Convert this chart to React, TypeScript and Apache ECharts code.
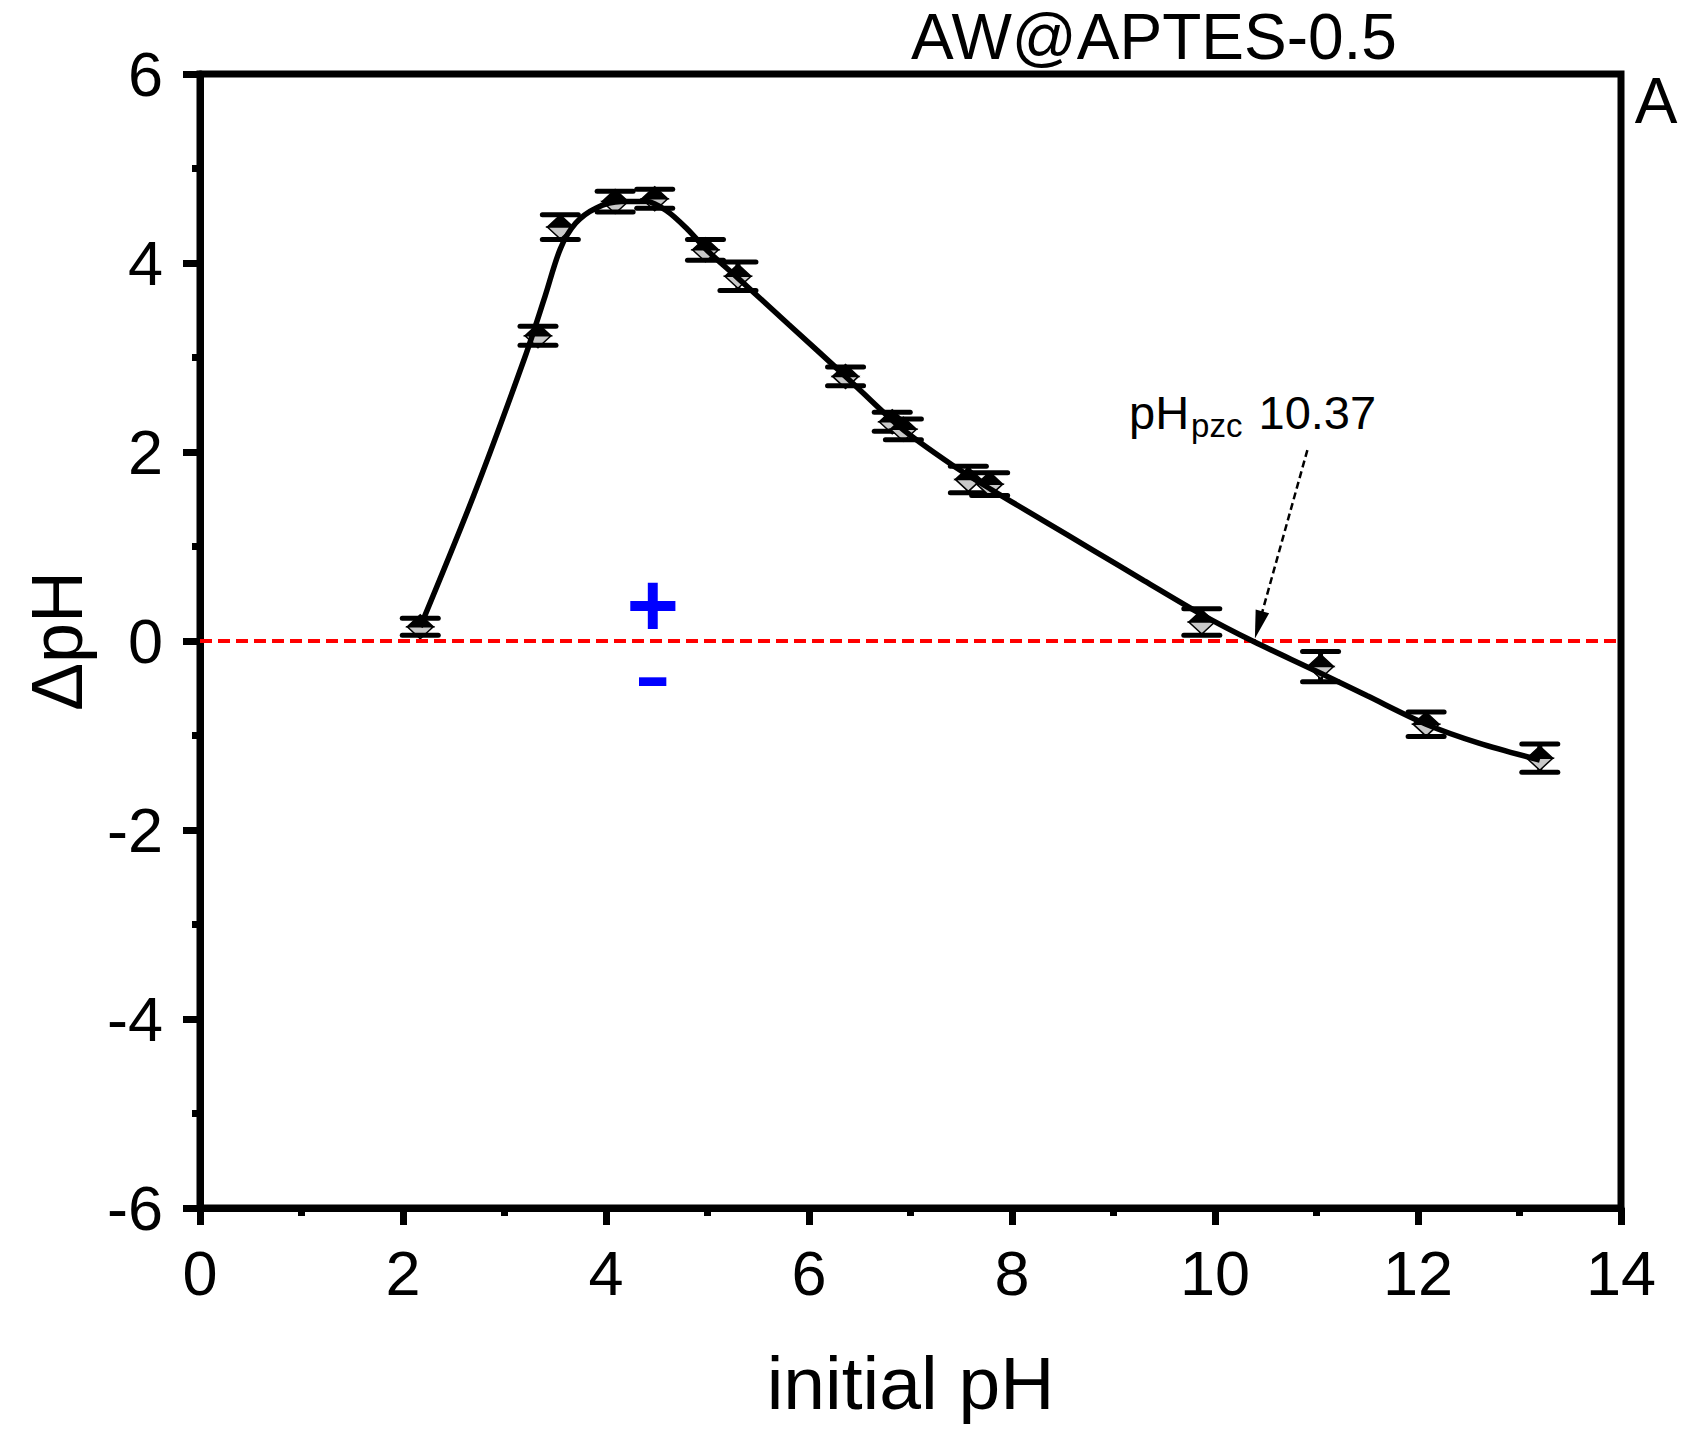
import React, { useEffect, useRef } from 'react';
import * as echarts from 'echarts';

// measured points: initial pH, ΔpH, error
const phInitial = [2.17, 3.33, 3.55, 4.09, 4.48, 4.98, 5.30, 6.36, 6.82, 6.93, 7.57, 7.78, 9.87, 11.04, 12.08, 13.20];
const deltaPH = [0.15, 3.23, 4.38, 4.65, 4.68, 4.14, 3.86, 2.80, 2.32, 2.24, 1.71, 1.66, 0.20, -0.27, -0.88, -1.24];
const deltaErr = [0.09, 0.10, 0.13, 0.11, 0.10, 0.11, 0.15, 0.10, 0.10, 0.11, 0.14, 0.12, 0.14, 0.16, 0.13, 0.15];

// fitted curve
const fitX = [2.17, 2.7, 3.2, 3.4, 3.55, 3.7, 3.9, 4.15, 4.4, 4.6, 4.8, 5.0, 5.3, 5.8, 6.36, 6.9, 7.4, 7.8, 8.3, 8.8, 9.3, 9.87, 10.37, 11.0, 11.5, 12.08, 12.6, 13.2];
const fitY = [0.15, 1.55, 3.0, 3.65, 4.15, 4.42, 4.58, 4.65, 4.65, 4.55, 4.36, 4.13, 3.84, 3.35, 2.8, 2.26, 1.87, 1.6, 1.28, 0.96, 0.64, 0.28, 0.0, -0.32, -0.58, -0.88, -1.08, -1.26];

const xTickLabels = ['0', '2', '4', '6', '8', '10', '12', '14'];
const yTickLabels = ['-6', '-4', '-2', '0', '2', '4', '6'];

const pzcValue = 10.37;
const chartTitle = 'AW@APTES-0.5';
const panelLetter = 'A';

const FONT = '"Liberation Sans", Arial, Helvetica, sans-serif';

export default function App() {
  const ref = useRef<HTMLDivElement>(null);
  useEffect(() => {
    document.body.style.margin = '0';
    const chart = echarts.init(ref.current!, null, { renderer: 'svg' });

    const axisCommon = {
      type: 'value',
      axisLine: { show: true, onZero: false, lineStyle: { color: '#000', width: 7 } },
      axisTick: { show: true, inside: false, length: 17, lineStyle: { color: '#000', width: 7 } },
      minorTick: { show: true, splitNumber: 2, length: 8, lineStyle: { color: '#000', width: 7 } },
      splitLine: { show: false },
      minorSplitLine: { show: false },
    };

    const option: any = {
      animation: false,
      backgroundColor: '#ffffff',
      grid: {
        left: 200, top: 74, width: 1421, height: 1134,
        show: true, borderColor: '#000', borderWidth: 7, backgroundColor: 'transparent',
      },
      xAxis: {
        ...axisCommon,
        min: 0, max: 14, interval: 2,
        name: 'initial pH', nameLocation: 'middle', nameGap: 137,
        nameTextStyle: { fontSize: 75, fontFamily: FONT, color: '#000' },
        axisLabel: {
          fontSize: 63, fontFamily: FONT, color: '#000', margin: 33,
          formatter: (v: number) => xTickLabels[Math.round(v / 2)] ?? String(v),
        },
      },
      yAxis: {
        ...axisCommon,
        min: -6, max: 6, interval: 2,
        name: 'ΔpH', nameLocation: 'middle', nameGap: 107,
        nameTextStyle: { fontSize: 72, fontFamily: FONT, color: '#000' },
        axisLabel: {
          fontSize: 63, fontFamily: FONT, color: '#000', margin: 37,
          formatter: (v: number) => yTickLabels[Math.round((v + 6) / 2)] ?? String(v),
        },
      },
      graphic: [
        {
          type: 'text', x: 1154, y: 37, z: 10,
          style: { text: chartTitle, font: `64px ${FONT}`, fill: '#000', align: 'center', verticalAlign: 'middle' },
        },
        {
          type: 'text', x: 1656, y: 101, z: 10,
          style: { text: panelLetter, font: `64px ${FONT}`, fill: '#000', align: 'center', verticalAlign: 'middle' },
        },
      ],
      series: [
        {
          name: 'zero',
          type: 'line',
          data: [],
          silent: true,
          markLine: {
            silent: true,
            symbol: 'none',
            label: { show: false },
            lineStyle: { color: '#ff0000', width: 4, type: [12, 6] },
            data: [{ yAxis: 0 }],
          },
        },
        {
          name: 'fit',
          type: 'line',
          data: fitX.map((x, i) => [x, fitY[i]]),
          smooth: 0.3,
          showSymbol: false,
          symbol: 'none',
          lineStyle: { color: '#000', width: 5.5 },
          z: 5,
        },
        {
          name: 'points',
          type: 'custom',
          data: phInitial.map((x, i) => [x, deltaPH[i], deltaErr[i]]),
          encode: { x: 0, y: 1 },
          z: 4,
          renderItem: (params: any, api: any) => {
            const x = api.value(0);
            const y = api.value(1);
            const e = api.value(2);
            const c = api.coord([x, y]);
            const t = api.coord([x, y + e]);
            const b = api.coord([x, y - e]);
            const cw = 18;
            const hw = 13;
            const hh = 12;
            const lineStyle = { stroke: '#000', lineWidth: 5 };
            return {
              type: 'group',
              children: [
                { type: 'line', shape: { x1: c[0], y1: t[1], x2: c[0], y2: b[1] }, style: lineStyle },
                {
                  type: 'polygon',
                  shape: { points: [[c[0] - hw, c[1]], [c[0], c[1] - hh], [c[0] + hw, c[1]]] },
                  style: { fill: '#000', stroke: '#000', lineWidth: 1.5 },
                },
                {
                  type: 'polygon',
                  shape: { points: [[c[0] - hw, c[1]], [c[0] + hw, c[1]], [c[0], c[1] + hh]] },
                  style: { fill: '#c8c8c8', stroke: '#000', lineWidth: 1.5 },
                },
                { type: 'line', shape: { x1: c[0] - cw, y1: t[1], x2: c[0] + cw, y2: t[1] }, style: { ...lineStyle, lineCap: 'round' } },
                { type: 'line', shape: { x1: c[0] - cw, y1: b[1], x2: c[0] + cw, y2: b[1] }, style: { ...lineStyle, lineCap: 'round' } },
              ],
            };
          },
        },
        {
          name: 'pzc',
          type: 'scatter',
          data: [[pzcValue, 2.42]],
          symbolSize: 0,
          silent: true,
          itemStyle: { opacity: 1 },
          label: {
            show: true,
            position: 'inside',
            color: '#000',
            opacity: 1,
            formatter: () => '{a|pH}{b|pzc}{a| ' + pzcValue.toFixed(2) + '}',
            rich: {
              a: { fontSize: 47, fontFamily: FONT, color: '#000', lineHeight: 60 },
              b: { fontSize: 33, fontFamily: FONT, color: '#000', lineHeight: 30, verticalAlign: 'bottom', padding: [0, 3, 0, 2] },
            },
          },
          markLine: {
            silent: true,
            symbol: ['none', 'triangle'],
            symbolSize: [14, 28],
            label: { show: false },
            lineStyle: { color: '#000', width: 2.5, type: [7, 4] },
            data: [[{ coord: [10.91, 2.02] }, { coord: [10.43, 0.17] }]],
          },
        },
        {
          name: 'signs',
          type: 'scatter',
          data: [[4.46, 0.38, '+'], [4.46, -0.33, '-']],
          symbolSize: 0,
          silent: true,
          itemStyle: { opacity: 1 },
          label: {
            show: true,
            position: 'inside',
            opacity: 1,
            formatter: (p: any) => (p.value[2] === '+' ? '{p|+}' : '{m|-}'),
            rich: {
              p: { color: '#0000ff', fontFamily: FONT, fontWeight: 'bold', fontSize: 90, lineHeight: 50 },
              m: { color: '#0000ff', fontFamily: FONT, fontWeight: 'normal', fontSize: 112, lineHeight: 36 },
            },
          },
        },
      ],
    };
    chart.setOption(option);
    return () => chart.dispose();
  }, []);
  return <div ref={ref} style={{ width: 1687, height: 1429 }} />;
}
